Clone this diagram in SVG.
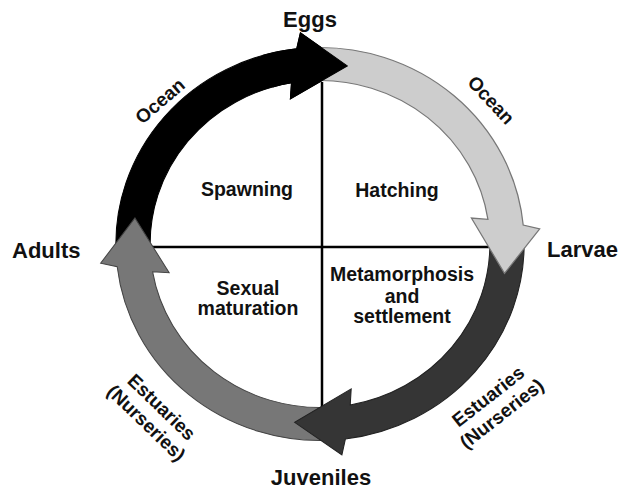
<svg xmlns="http://www.w3.org/2000/svg" width="622" height="490" viewBox="0 0 622 490">
  <style>
    .t { font-family: "Liberation Sans", Arial, sans-serif; font-weight: bold; fill: #111; }
    .big { font-size: 22px; }
    .mid { font-size: 19.5px; text-anchor: middle; }
    .hab { font-size: 19px; text-anchor: middle; }
    .grid { stroke: #000; stroke-width: 2.5; fill: none; }
  </style>
  <rect width="622" height="490" fill="#fff"/>

  <g id="quadrant-lines">
    <line class="grid" x1="322" y1="82" x2="322" y2="410"/>
    <line class="grid" x1="148" y1="247" x2="494" y2="247"/>
  </g>

  <g id="connectors" transform="translate(320 244) scale(1.039 1)">
    <path id="arrow-adults-eggs" fill="#000" stroke="#000" stroke-width="1" d="M -196.28 9.26 A 196.5 196.5 0 0 1 -22.41 -195.22 L -18.85 -211.16 L 26.29 -178.07 L -28.49 -145.23 L -27.41 -161.19 A 163.5 163.5 0 0 0 -163.32 7.70 Z"/>
    <path id="arrow-juveniles-adults" fill="#777" stroke="#444" stroke-width="1" d="M 10.97 196.19 A 196.5 196.5 0 0 1 -195.18 22.75 L -211.13 19.21 L -178.12 -25.98 L -145.18 28.75 L -161.14 27.69 A 163.5 163.5 0 0 0 9.13 163.24 Z"/>
    <path id="arrow-larvae-juveniles" fill="#353535" stroke="#222" stroke-width="1" d="M 196.42 -5.49 A 196.5 196.5 0 0 1 24.46 194.97 L 21.06 210.95 L -24.43 178.34 L 30.01 144.92 L 29.09 160.89 A 163.5 163.5 0 0 0 163.44 -4.56 Z"/>
    <path id="arrow-eggs-larvae" fill="#cdcdcd" stroke="#777" stroke-width="1.2" d="M -8.91 -196.30 A 196.5 196.5 0 0 1 195.58 -19.01 L 211.46 -15.16 L 177.58 29.40 L 145.71 -25.95 L 161.64 -24.59 A 163.5 163.5 0 0 0 -7.42 -163.33 Z"/>
    <path id="arrow-adults-eggs-head" fill="#000" stroke="#000" stroke-width="1" d="M -54.49 -188.79 A 196.5 196.5 0 0 1 -22.41 -195.22 L -18.85 -211.16 L 26.29 -178.07 L -28.49 -145.23 L -27.41 -161.19 A 163.5 163.5 0 0 0 -45.34 -157.09 Z"/>
  </g>

  <g id="eggs"><text class="t big" x="310" y="27" text-anchor="middle">Eggs</text></g>
  <g id="larvae"><text class="t big" x="547" y="257">Larvae</text></g>
  <g id="juveniles"><text class="t big" x="321" y="485" text-anchor="middle">Juveniles</text></g>
  <g id="adults"><text class="t big" x="12" y="258">Adults</text></g>

  <g id="spawning"><text class="t mid" x="247" y="196">Spawning</text></g>
  <g id="hatching"><text class="t mid" x="397" y="197">Hatching</text></g>
  <g id="sexual-maturation">
    <text class="t mid" x="248" y="295">Sexual</text>
    <text class="t mid" x="248" y="315">maturation</text>
  </g>
  <g id="metamorphosis">
    <text class="t mid" x="402" y="281">Metamorphosis</text>
    <text class="t mid" x="402" y="302.5">and</text>
    <text class="t mid" x="402" y="323">settlement</text>
  </g>

  <g id="ocean-left" transform="translate(160 101) rotate(-41)">
    <text class="t hab" x="0" y="6.5">Ocean</text>
  </g>
  <g id="ocean-right" transform="translate(491 100) rotate(47)">
    <text class="t hab" x="0" y="6.5">Ocean</text>
  </g>
  <g id="estuaries-left" transform="translate(154 415) rotate(44)">
    <text class="t hab" x="0" y="-4.5">Estuaries</text>
    <text class="t hab" x="0" y="17.5">(Nurseries)</text>
  </g>
  <g id="estuaries-right" transform="translate(495 405) rotate(-38)">
    <text class="t hab" x="0" y="-4.5">Estuaries</text>
    <text class="t hab" x="0" y="17.5">(Nurseries)</text>
  </g>
</svg>
